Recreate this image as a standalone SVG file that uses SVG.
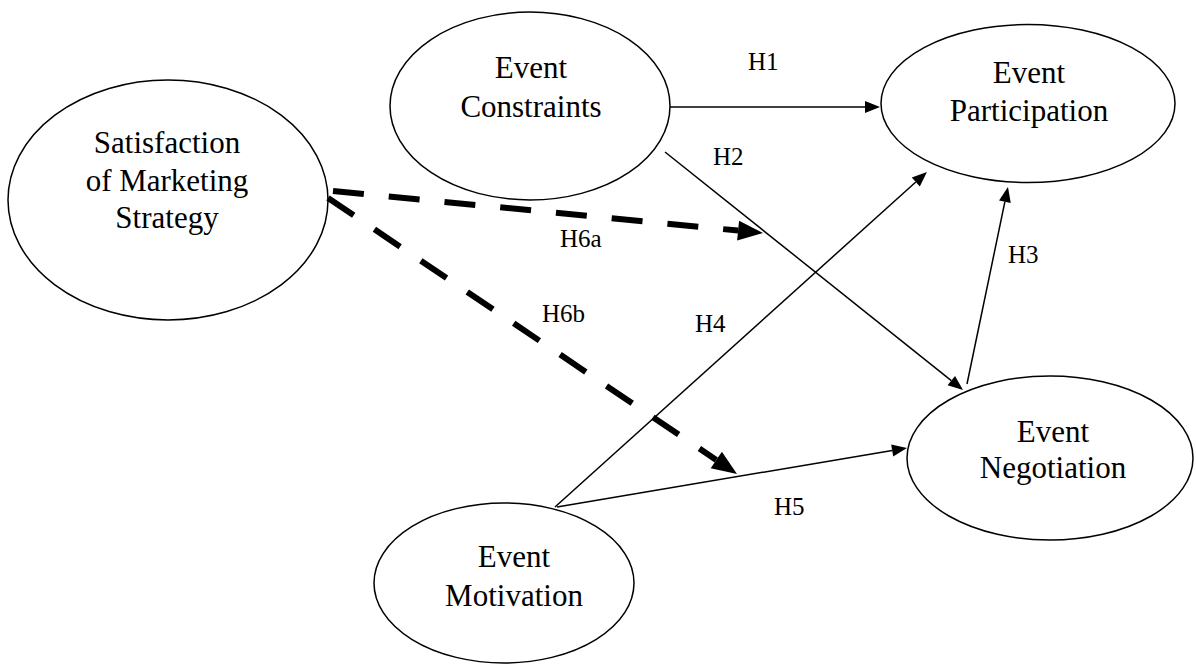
<svg xmlns="http://www.w3.org/2000/svg" width="1196" height="666" viewBox="0 0 1196 666">
<style>
.node ellipse{fill:#fff;stroke:#000;stroke-width:1.5}
.node text{font-family:"Liberation Serif","Times New Roman",serif;font-size:31px;fill:#000;text-anchor:middle}
.lbl{font-family:"Liberation Serif","Times New Roman",serif;font-size:25px;fill:#000}
.solid{fill:none;stroke:#000;stroke-width:1.5}
.dash{fill:none;stroke:#000;stroke-width:6;stroke-dasharray:31 25}
</style>
<defs>
<marker id="arr" markerUnits="userSpaceOnUse" markerWidth="16" markerHeight="14" refX="0" refY="7" orient="auto" overflow="visible">
<path d="M0,1 L15,7 L0,13 z" fill="#000"/>
</marker>
<marker id="arrBig" markerUnits="userSpaceOnUse" markerWidth="26" markerHeight="22" refX="0" refY="11" orient="auto" overflow="visible">
<path d="M0,1 L25,11 L0,21 z" fill="#000"/>
</marker>
</defs>
<rect width="1196" height="666" fill="#fff"/>
<g id="nodes">
<g id="satisfaction" class="node">
<ellipse cx="168" cy="200" rx="160" ry="120"/>
<text x="167" y="153">Satisfaction</text>
<text x="167" y="191">of Marketing</text>
<text x="167" y="228">Strategy</text>
</g>
<g id="constraints" class="node">
<ellipse cx="530" cy="106" rx="140" ry="94"/>
<text x="531" y="78">Event</text>
<text x="531" y="117">Constraints</text>
</g>
<g id="participation" class="node">
<ellipse cx="1028" cy="103.5" rx="147" ry="79"/>
<text x="1029" y="83">Event</text>
<text x="1029" y="121">Participation</text>
</g>
<g id="negotiation" class="node">
<ellipse cx="1050" cy="458" rx="143" ry="82"/>
<text x="1053" y="442">Event</text>
<text x="1053" y="478">Negotiation</text>
</g>
<g id="motivation" class="node">
<ellipse cx="504" cy="583" rx="130" ry="80"/>
<text x="514" y="567">Event</text>
<text x="514" y="606">Motivation</text>
</g>
</g>
<g id="connectors">
<path class="solid" d="M670,107 L865,107" marker-end="url(#arr)"/>
<path class="solid" d="M665,152 L951.3,380.6" marker-end="url(#arr)"/>
<path class="solid" d="M967,384 L1004.9,201.7" marker-end="url(#arr)"/>
<path class="solid" d="M555,507 L915.8,182" marker-end="url(#arr)"/>
<path class="solid" d="M557,507 L892.2,450.5" marker-end="url(#arr)"/>
<path class="dash" d="M333,191 L738.1,230.6" marker-end="url(#arrBig)"/>
<path class="dash" d="M328,198 L716.3,460" marker-end="url(#arrBig)"/>
</g>
<g id="labels">
<text class="lbl" x="748" y="70">H1</text>
<text class="lbl" x="713" y="165">H2</text>
<text class="lbl" x="1008" y="263">H3</text>
<text class="lbl" x="695" y="332">H4</text>
<text class="lbl" x="774" y="515">H5</text>
<text class="lbl" x="560" y="247">H6a</text>
<text class="lbl" x="542" y="322">H6b</text>
</g>
</svg>
